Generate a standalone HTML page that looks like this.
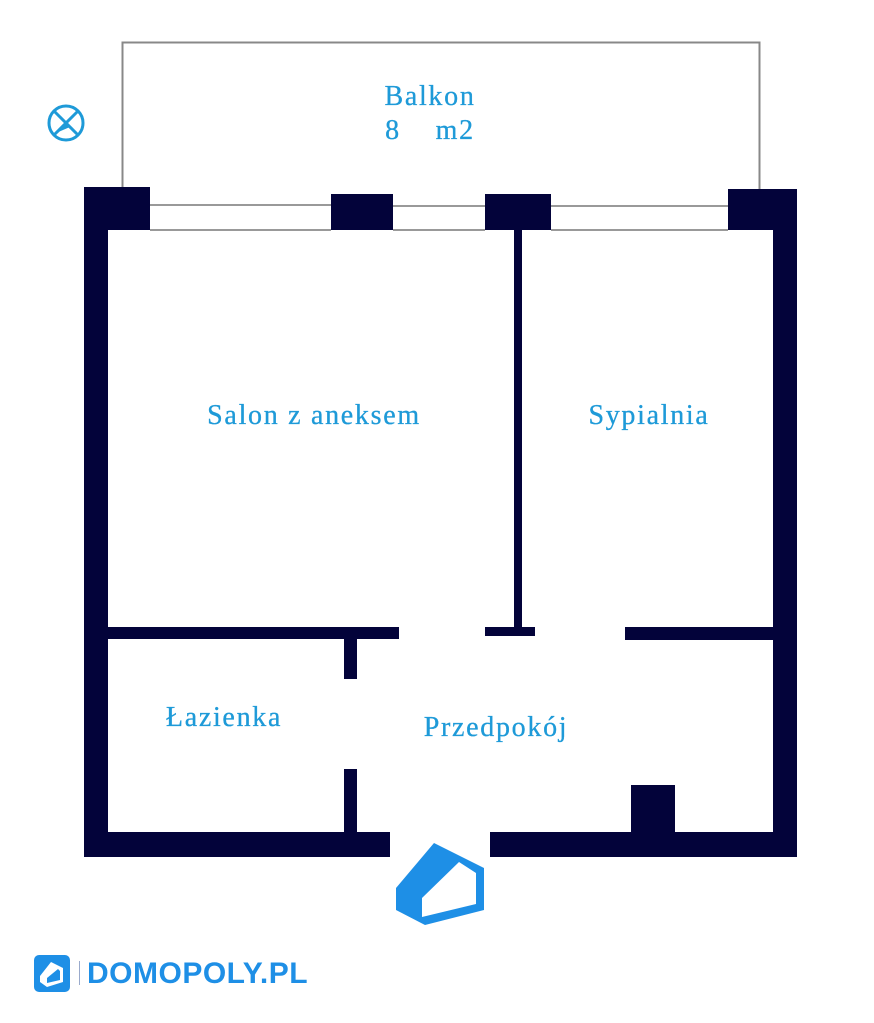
<!DOCTYPE html>
<html><head><style>
body{margin:0;width:874px;height:1023px;background:#fff;overflow:hidden;position:relative;font-family:"Liberation Serif",serif}
.w{position:absolute;background:#03033a}
.t{position:absolute;color:#1e9ad8;font-size:28px;letter-spacing:1.7px;white-space:nowrap;transform:translate(-50%,-50%);-webkit-text-stroke:0.3px #1e9ad8}
</style></head><body>
<svg width="874" height="1023" style="position:absolute;left:0;top:0">
<polyline points="122.5,188 122.5,42.5 759.5,42.5 759.5,189" fill="none" stroke="#888" stroke-width="2"/>
<g stroke="#999" stroke-width="2">
<line x1="150" y1="205" x2="331" y2="205"/><line x1="150" y1="230" x2="331" y2="230"/>
<line x1="393" y1="206" x2="485" y2="206"/><line x1="393" y1="230" x2="485" y2="230"/>
<line x1="551" y1="206" x2="728" y2="206"/><line x1="551" y1="230" x2="728" y2="230"/>
</g>
<circle cx="66" cy="123" r="17" fill="none" stroke="#1e9ad8" stroke-width="3"/>
<line x1="54" y1="111" x2="78" y2="135" stroke="#1e9ad8" stroke-width="3"/>
<line x1="78" y1="111" x2="54" y2="135" stroke="#1e9ad8" stroke-width="3"/>
<polygon points="66,123 56,133 70,127" fill="#1e9ad8"/>
<polygon points="434,843 484,868 484,910 425,925 396,910 396,888" fill="#1e8fe6"/>
<polygon points="459,862 476,873 476,904 422,917 422,898" fill="#fff"/>
<rect x="34" y="955" width="36" height="37" rx="5" fill="#1e8fe6"/>
<polygon points="51,962 63,968 63,982 47,987 40,982 40,976" fill="#fff"/>
<polygon points="58,969 60,971 60,980 47,983 47,978" fill="#1e8fe6"/>
<line x1="79.5" y1="961" x2="79.5" y2="985" stroke="#9ac" stroke-width="1"/>
</svg>
<div class="w" style="left:84px;top:187px;width:66px;height:43px"></div>
<div class="w" style="left:84px;top:187px;width:24px;height:670px"></div>
<div class="w" style="left:84px;top:832px;width:306px;height:25px"></div>
<div class="w" style="left:490px;top:832px;width:307px;height:25px"></div>
<div class="w" style="left:773px;top:189px;width:24px;height:668px"></div>
<div class="w" style="left:728px;top:189px;width:69px;height:41px"></div>
<div class="w" style="left:331px;top:194px;width:62px;height:36px"></div>
<div class="w" style="left:485px;top:194px;width:66px;height:36px"></div>
<div class="w" style="left:514px;top:230px;width:8px;height:400px"></div>
<div class="w" style="left:485px;top:627px;width:50px;height:9px"></div>
<div class="w" style="left:108px;top:627px;width:291px;height:12px"></div>
<div class="w" style="left:344px;top:639px;width:13px;height:40px"></div>
<div class="w" style="left:344px;top:769px;width:13px;height:63px"></div>
<div class="w" style="left:625px;top:627px;width:148px;height:13px"></div>
<div class="w" style="left:631px;top:785px;width:44px;height:47px"></div>
<div class="t" style="left:430px;top:97px">Balkon</div>
<div class="t" style="left:430px;top:131px">8&nbsp;&nbsp;&nbsp;&nbsp;m2</div>
<div class="t" style="left:314px;top:416px">Salon z aneksem</div>
<div class="t" style="left:649px;top:416px">Sypialnia</div>
<div class="t" style="left:224px;top:718px">Łazienka</div>
<div class="t" style="left:496px;top:728px">Przedpokój</div>
<div style="position:absolute;left:87px;top:955px;font-family:'Liberation Sans',sans-serif;font-weight:bold;font-size:30px;color:#1e8fe6;letter-spacing:0.5px;line-height:37px">DOMOPOLY.PL</div>
</body></html>
